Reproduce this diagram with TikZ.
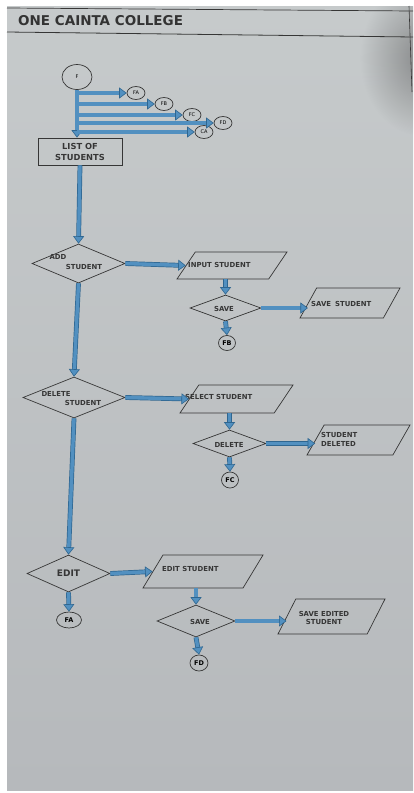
\documentclass[tikz,border=0pt]{standalone}
\usepackage{fontspec}
\setmainfont{DejaVu Sans}
\usetikzlibrary{shapes.geometric,arrows.meta,fadings}

\definecolor{paper}{HTML}{C6CACB}
\definecolor{paperlow}{HTML}{B6B9BC}
\definecolor{ink}{HTML}{363636}
\definecolor{flowblue}{HTML}{5290C0}
\definecolor{flowedge}{HTML}{2F6690}

\tikzfading[name=softcorner, inner color=transparent!50, outer color=transparent!100]

\begin{document}
\begin{tikzpicture}[x=1pt, y=-1pt,
  outline/.style={draw=ink, line width=0.7pt, inner sep=0pt},
  connector/.style={outline, ellipse, font=\fontsize{5}{6}\selectfont},
  decision/.style={outline, diamond},
  process/.style={outline, rectangle},
  io/.style={outline, inner sep=1pt, trapezium, trapezium left angle=76, trapezium right angle=104,
             trapezium stretches=true},
  txt/.style={text=ink, inner sep=0pt, font=\fontsize{6.9}{8.6}\selectfont\bfseries},
  flow/.style={draw=flowblue, line width=3.4pt,
    -{Triangle[length=7.5pt, width=11pt, line width=0.6pt, color=flowedge, fill=flowblue]},
    preaction={draw=flowedge, line width=4.8pt, arrows=-, shorten >=5pt}}]

\useasboundingbox (0,0) rectangle (413,793);

% sheet of paper
\fill[white] (0,0) rectangle (413,793);
\shade[top color=paper, bottom color=paperlow] (7,6) rectangle (413,790);
\begin{scope}
  \clip (7,6) rectangle (413,790);
  \fill[black!70, path fading=softcorner] (422,58) ellipse [x radius=62, y radius=78];
\end{scope}

% header band
\draw[ink, line width=0.7pt] (7,8) -- (413,11);
\draw[ink, line width=0.8pt] (7,32) -- (413,37);
\draw[ink, line width=0.6pt] (409,6) -- (412,92);
\node[anchor=base west, inner sep=0pt, text=black!80,
      font=\fontsize{13.5}{16}\selectfont\bfseries] (title) at (18,25) {ONE CAINTA COLLEGE};

% start and its off-page connectors
\node[connector, minimum width=30pt, minimum height=25pt] (F) at (77,77) {F};
\node[connector, minimum width=18pt, minimum height=13pt] (cFA) at (136,93) {FA};
\node[connector, minimum width=18pt, minimum height=13pt] (cFB) at (164,104) {FB};
\node[connector, minimum width=18pt, minimum height=13pt] (cFC) at (192,115) {FC};
\node[connector, minimum width=18pt, minimum height=13pt] (cFD) at (223,123) {FD};
\node[connector, minimum width=18pt, minimum height=13pt] (cCA) at (204,132) {CA};

\node[process, minimum width=84pt, minimum height=27pt, align=center,
      font=\fontsize{8.3}{11}\selectfont\bfseries, text=ink] (list) at (80,151.5) {LIST OF\\STUDENTS};

% add branch
\node[decision, minimum width=93pt, minimum height=39pt] (add) at (78.5,263.5) {};
\node[txt] (addA) at (58,257) {ADD};
\node[txt] (addB) at (84,267) {STUDENT};
\node[io, minimum width=110pt, minimum height=27pt] (input) at (232,265.5) {};
\node[txt, anchor=west] (inputT) at (188,265) {INPUT STUDENT};
\node[decision, minimum width=71pt, minimum height=26pt] (save1) at (225.5,308) {};
\node[txt] (save1T) at (224,309) {SAVE};
\node[io, minimum width=100pt, minimum height=30pt] (saveStu) at (350,303) {};
\node[txt, anchor=west] (saveStuT) at (311,304) {SAVE\hspace{4pt}STUDENT};
\node[connector, minimum width=17pt, minimum height=15pt, font=\fontsize{6.5}{7}\selectfont\bfseries] (FB) at (227,343) {FB};

% delete branch
\node[decision, minimum width=102pt, minimum height=41pt] (del) at (74,397.5) {};
\node[txt] (delA) at (56,394) {DELETE};
\node[txt] (delB) at (83,403) {STUDENT};
\node[io, minimum width=113pt, minimum height=28pt] (select) at (236.5,399) {};
\node[txt, anchor=west] (selectT) at (185,397) {SELECT STUDENT};
\node[decision, minimum width=73pt, minimum height=27pt] (delete) at (229.5,443.5) {};
\node[txt] (deleteT) at (229,445) {DELETE};
\node[io, minimum width=103pt, minimum height=30pt] (deleted) at (358.5,440) {};
\node[txt, anchor=west, align=left] (deletedT) at (321,439.5) {STUDENT\\DELETED};
\node[connector, minimum width=17pt, minimum height=16pt, font=\fontsize{6.5}{7}\selectfont\bfseries] (FC) at (230,480) {FC};

% edit branch
\node[decision, minimum width=83pt, minimum height=37pt,
      font=\fontsize{9}{10}\selectfont\bfseries, text=ink] (edit) at (68.5,573.5) {EDIT};
\node[connector, minimum width=25pt, minimum height=16pt, font=\fontsize{6.5}{7}\selectfont\bfseries] (FA) at (69,620) {FA};
\node[io, minimum width=120pt, minimum height=33pt] (editStu) at (203,571.5) {};
\node[txt, anchor=west] (editStuT) at (162,569) {EDIT STUDENT};
\node[decision, minimum width=78pt, minimum height=32pt] (save2) at (196,621) {};
\node[txt] (save2T) at (200,622) {SAVE};
\node[io, minimum width=107pt, minimum height=35pt] (saveEd) at (331.5,616.5) {};
\node[txt, align=center] (saveEdT) at (324,618) {SAVE EDITED\\STUDENT};
\node[connector, minimum width=18pt, minimum height=16pt, font=\fontsize{6.5}{7}\selectfont\bfseries] (FD) at (199,663) {FD};

% flow lines
\draw[flow] (F.south) -- (F.south |- list.north);
\foreach \c in {cFA,cFB,cFC,cFD,cCA}
  \draw[flow] (F.south |- \c.west) -- (\c.west);
\draw[flow] (list.south) -- (add.north);
\draw[flow] (add.east) -- (input.west);
\draw[flow] (save1.north |- input.south) -- (save1.north);
\draw[flow] (save1.east) -- (save1.east -| saveStu.west);
\draw[flow] (save1.south) -- (FB.north);

\draw[flow] (add.south) -- (del.north);
\draw[flow] (del.east) -- (select.west);
\draw[flow] (delete.north |- select.south) -- (delete.north);
\draw[flow] (delete.east) -- (delete.east -| deleted.west);
\draw[flow] (delete.south) -- (FC.north);

\draw[flow] (del.south) -- (edit.north);
\draw[flow] (edit.east) -- (editStu.west);
\draw[flow] (edit.south) -- (FA.north);
\draw[flow] (save2.north |- editStu.south) -- (save2.north);
\draw[flow] (save2.east) -- (save2.east -| saveEd.west);
\draw[flow] (save2.south) -- (FD.north);
\end{tikzpicture}
\end{document}
